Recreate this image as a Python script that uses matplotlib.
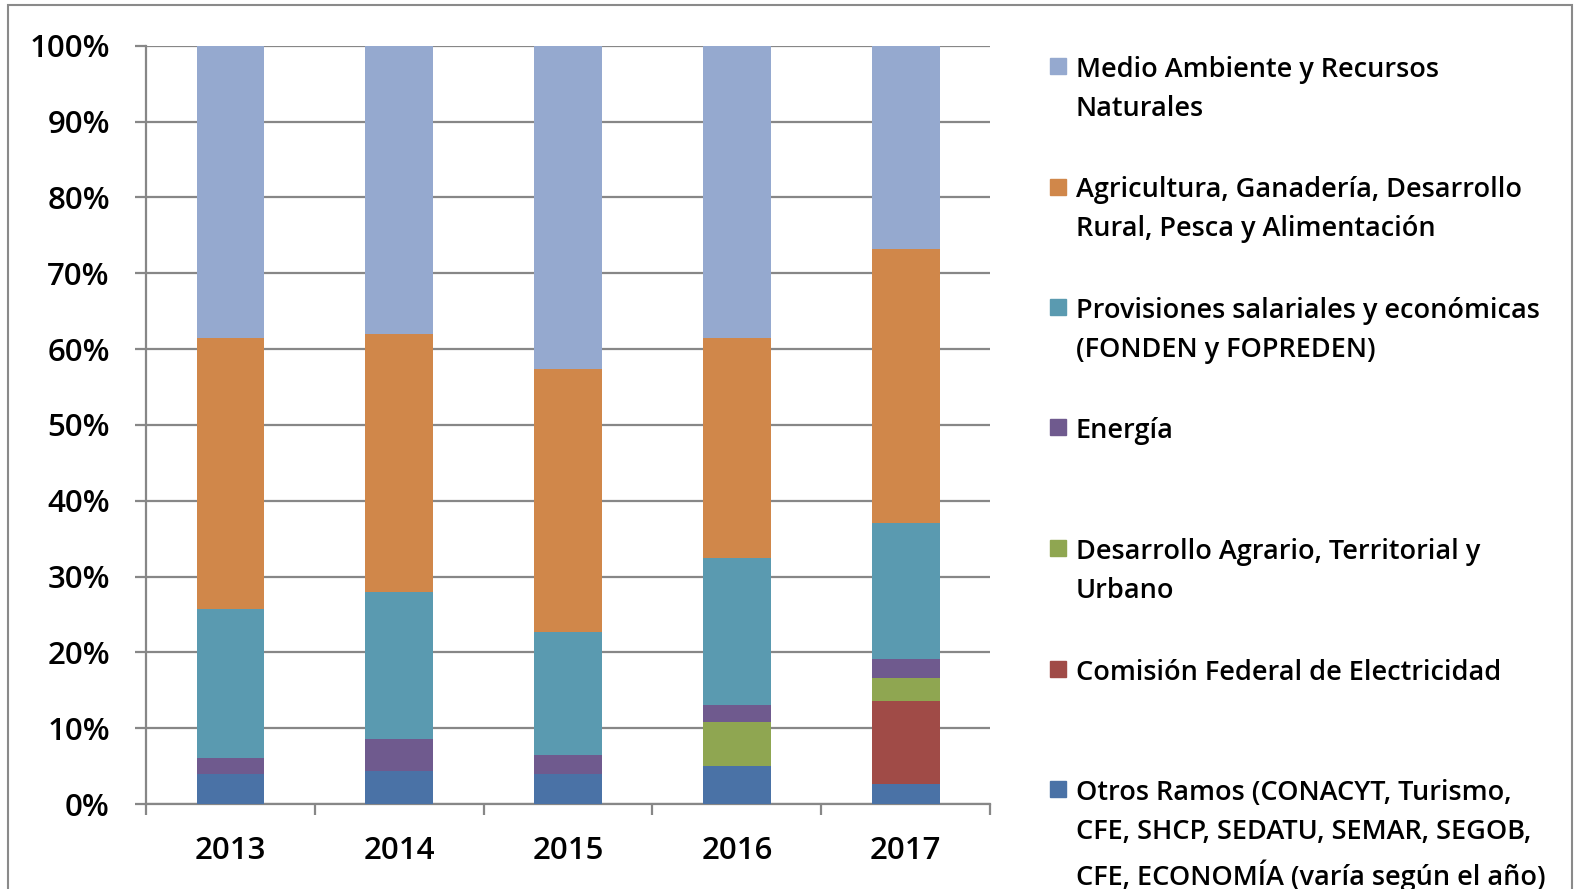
import matplotlib.pyplot as plt
from matplotlib.patches import Rectangle
import numpy as np

plt.rcParams['font.family'] = ['Open Sans', 'DejaVu Sans']
plt.rcParams['font.weight'] = 600

years = ["2013", "2014", "2015", "2016", "2017"]

# participación (%) por ramo, de abajo hacia arriba en la pila
otros = [4.0, 4.3, 4.0, 5.0, 2.7]
cfe = [0.0, 0.0, 0.0, 0.0, 10.9]
agrario = [0.0, 0.0, 0.0, 5.8, 3.0]
energia = [2.1, 4.3, 2.5, 2.2, 2.5]
provisiones = [19.6, 19.3, 16.2, 19.5, 18.0]
agricultura = [35.8, 34.1, 34.7, 28.9, 36.1]
medio = [38.5, 38.0, 42.6, 38.6, 26.8]

series = [otros, cfe, agrario, energia, provisiones, agricultura, medio]
labels = [
    "Otros Ramos (CONACYT, Turismo,\nCFE, SHCP, SEDATU, SEMAR, SEGOB,\nCFE, ECONOMÍA (varía según el año)",
    "Comisión Federal de Electricidad",
    "Desarrollo Agrario, Territorial y\nUrbano",
    "Energía",
    "Provisiones salariales y económicas\n(FONDEN y FOPREDEN)",
    "Agricultura, Ganadería, Desarrollo\nRural, Pesca y Alimentación",
    "Medio Ambiente y Recursos\nNaturales",
]
colors = ["#4A72A6", "#A04B47", "#8FA651", "#6F5A8E", "#5A9AB0", "#D0874A", "#95A9CF"]

fig = plt.figure(figsize=(15.81, 8.89), dpi=100)
ax = fig.add_axes([0.0923, 0.0956, 0.534, 0.853])

x = np.arange(len(years))
bottom = np.zeros(len(years))
for vals, c in zip(series, colors):
    ax.bar(x, vals, bottom=bottom, width=0.4, color=c, zorder=3)
    bottom += np.array(vals)

ax.set_xlim(-0.5, len(years) - 0.5)
ax.set_ylim(0, 100)
ax.set_yticks(range(0, 101, 10))
ax.set_yticklabels([f"{v}%" for v in range(0, 101, 10)], fontsize=22.5)
ax.yaxis.grid(True, color="#878787", lw=1.6, zorder=0)
ax.tick_params(axis="y", length=8, width=1.6, color="#878787", pad=18)

ax.set_xticks(x)
ax.set_xticklabels(years, fontsize=22.5)
ax.set_xticks(np.arange(-0.5, len(years)), minor=True)
ax.tick_params(axis="x", which="major", length=0, pad=23)
ax.tick_params(axis="x", which="minor", length=8, width=1.6, color="#878787")

for s in ["top", "right"]:
    ax.spines[s].set_visible(False)
for s in ["left", "bottom"]:
    ax.spines[s].set_color("#878787")
    ax.spines[s].set_linewidth(1.6)

# leyenda manual, entradas espaciadas de forma uniforme
y0 = 1 - 66 / 889
step = 120.5 / 889
for i, (lab, c) in enumerate(zip(labels[::-1], colors[::-1])):
    yy = y0 - i * step
    fig.patches.append(Rectangle((1050 / 1581, yy - 8 / 889), 16 / 1581, 16 / 889,
                                 transform=fig.transFigure, color=c))
    fig.text(1076 / 1581, yy + 10 / 889, lab, fontsize=19.5, va="top", ha="left",
             linespacing=1.52)

# marco exterior
fig.patches.append(Rectangle((8 / 1581, -0.02), 1564 / 1581, 1 - 5 / 889 + 0.02,
                             transform=fig.transFigure, fill=False,
                             edgecolor="#8a8a8a", lw=1.5))

fig.savefig("out.png", dpi=100)
